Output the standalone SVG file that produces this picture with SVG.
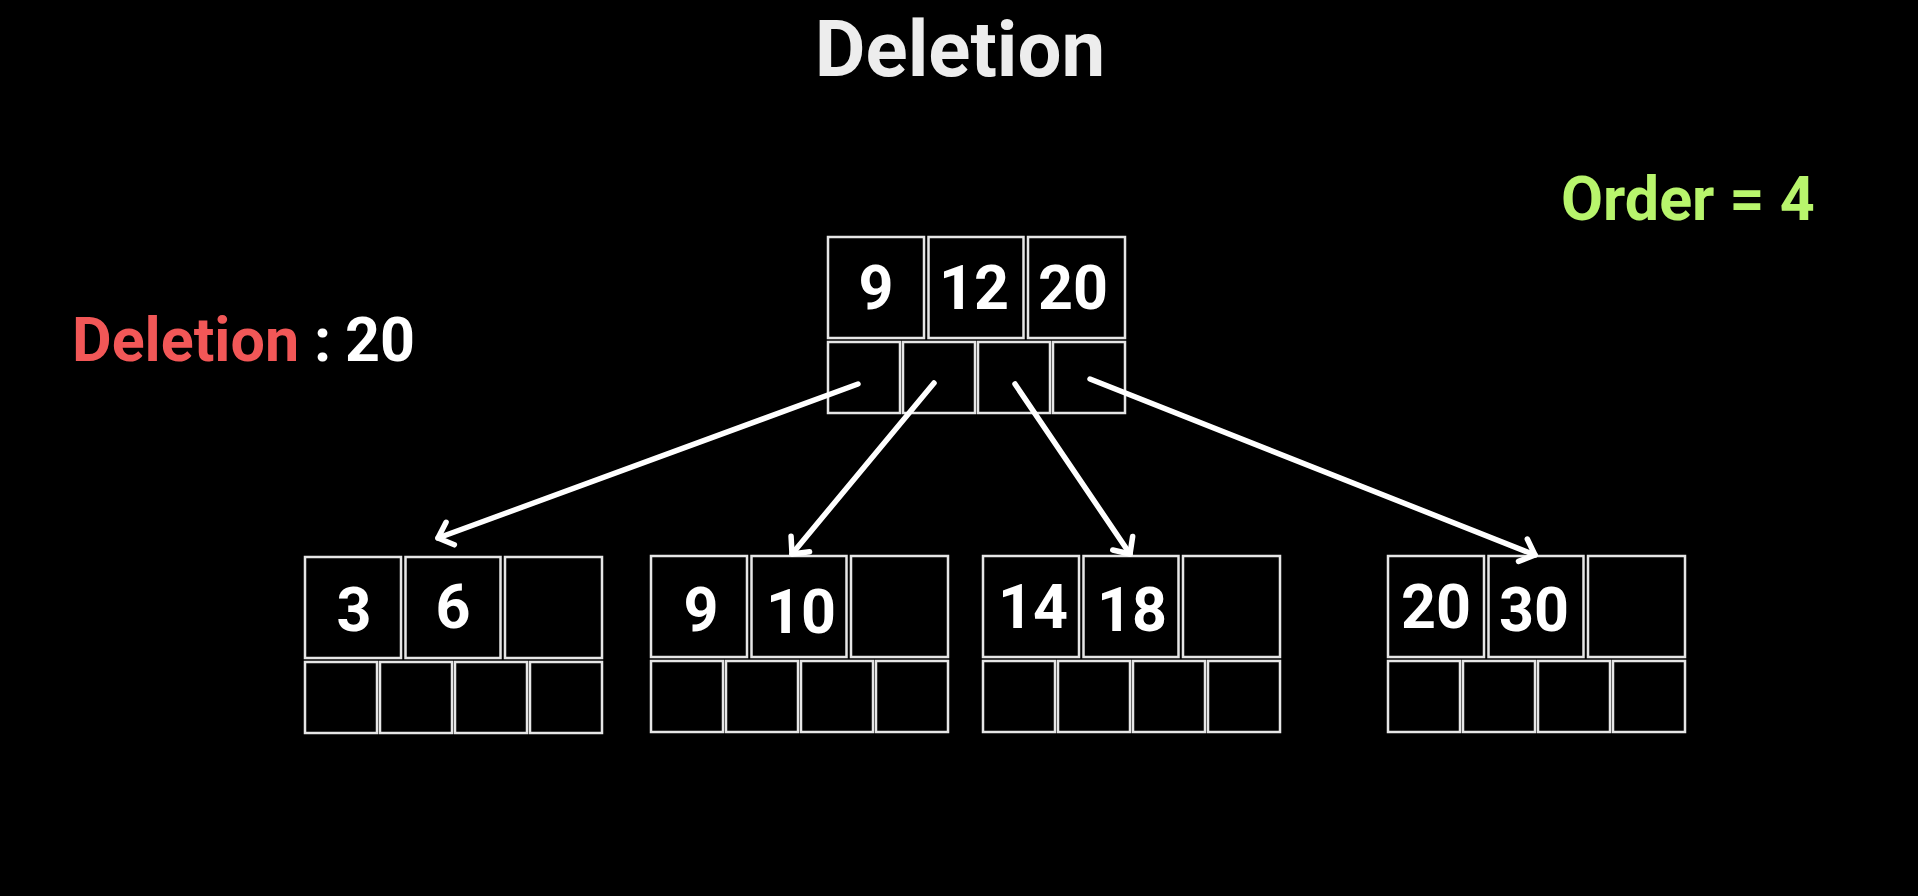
<svg xmlns="http://www.w3.org/2000/svg" width="1918" height="896" viewBox="0 0 1918 896">
<style>
.bg{fill:#000}
.cell{fill:#000;stroke:#e6e6e6;stroke-width:2.5}
.num{font-family:Roboto,"Liberation Sans",sans-serif;font-weight:700;font-size:61px;fill:#fff;text-anchor:middle}
.lbl{font-family:Roboto,"Liberation Sans",sans-serif;font-weight:700;font-size:61px}
.arrow{stroke:#fff;stroke-width:5.5;fill:none;stroke-linecap:round;marker-end:url(#head)}
</style>
<defs>
<marker id="head" markerUnits="userSpaceOnUse" markerWidth="40" markerHeight="40" refX="20" refY="20" orient="auto" overflow="visible">
<polyline points="7,8 20,20 7,32" fill="none" stroke="#fff" stroke-width="5.5" stroke-linecap="round" stroke-linejoin="round"/>
</marker>
<g id="nodeShape">
<rect class="cell" x="0" y="0" width="96" height="101"/>
<rect class="cell" x="100.5" y="0" width="95" height="101"/>
<rect class="cell" x="200" y="0" width="97" height="101"/>
<rect class="cell" x="0" y="105" width="72" height="71"/>
<rect class="cell" x="75" y="105" width="72" height="71"/>
<rect class="cell" x="150" y="105" width="72" height="71"/>
<rect class="cell" x="225" y="105" width="72" height="71"/>
</g>
</defs>
<rect class="bg" x="0" y="0" width="1918" height="896"/>
<text id="title" x="960" y="76" class="lbl" style="font-size:78px;fill:#ededed;text-anchor:middle">Deletion</text>
<text id="deletionLabel" class="lbl" y="361"><tspan x="72" fill="#f25757">Deletion</tspan><tspan x="314" fill="#fff">:</tspan><tspan x="345" fill="#fff">20</tspan></text>
<text id="orderLabel" class="lbl" x="1561" y="220" fill="#b8f56c">Order = 4</text>
<g id="root" transform="translate(828,237)">
<use href="#nodeShape"/>
<text class="num" x="48" y="72">9</text>
<text class="num" x="146" y="72">12</text>
<text class="num" x="245" y="72">20</text>
</g>
<g id="leaf1" transform="translate(305,557)">
<use href="#nodeShape"/>
<text class="num" x="49" y="74">3</text>
<text class="num" x="148" y="71">6</text>
</g>
<g id="leaf2" transform="translate(651,556)">
<use href="#nodeShape"/>
<text class="num" x="50" y="75">9</text>
<text class="num" x="150" y="77">10</text>
</g>
<g id="leaf3" transform="translate(983,556)">
<use href="#nodeShape"/>
<text class="num" x="50" y="72">14</text>
<text class="num" x="149" y="75">18</text>
</g>
<g id="leaf4" transform="translate(1388,556)">
<use href="#nodeShape"/>
<text class="num" x="48" y="72">20</text>
<text class="num" x="146" y="75">30</text>
</g>
<g id="connectors">
<line class="arrow" x1="858" y1="384" x2="438" y2="538"/>
<line class="arrow" x1="934" y1="383" x2="792" y2="554"/>
<line class="arrow" x1="1015" y1="384" x2="1130" y2="554"/>
<line class="arrow" x1="1090" y1="379" x2="1535" y2="555"/>
</g>
</svg>
